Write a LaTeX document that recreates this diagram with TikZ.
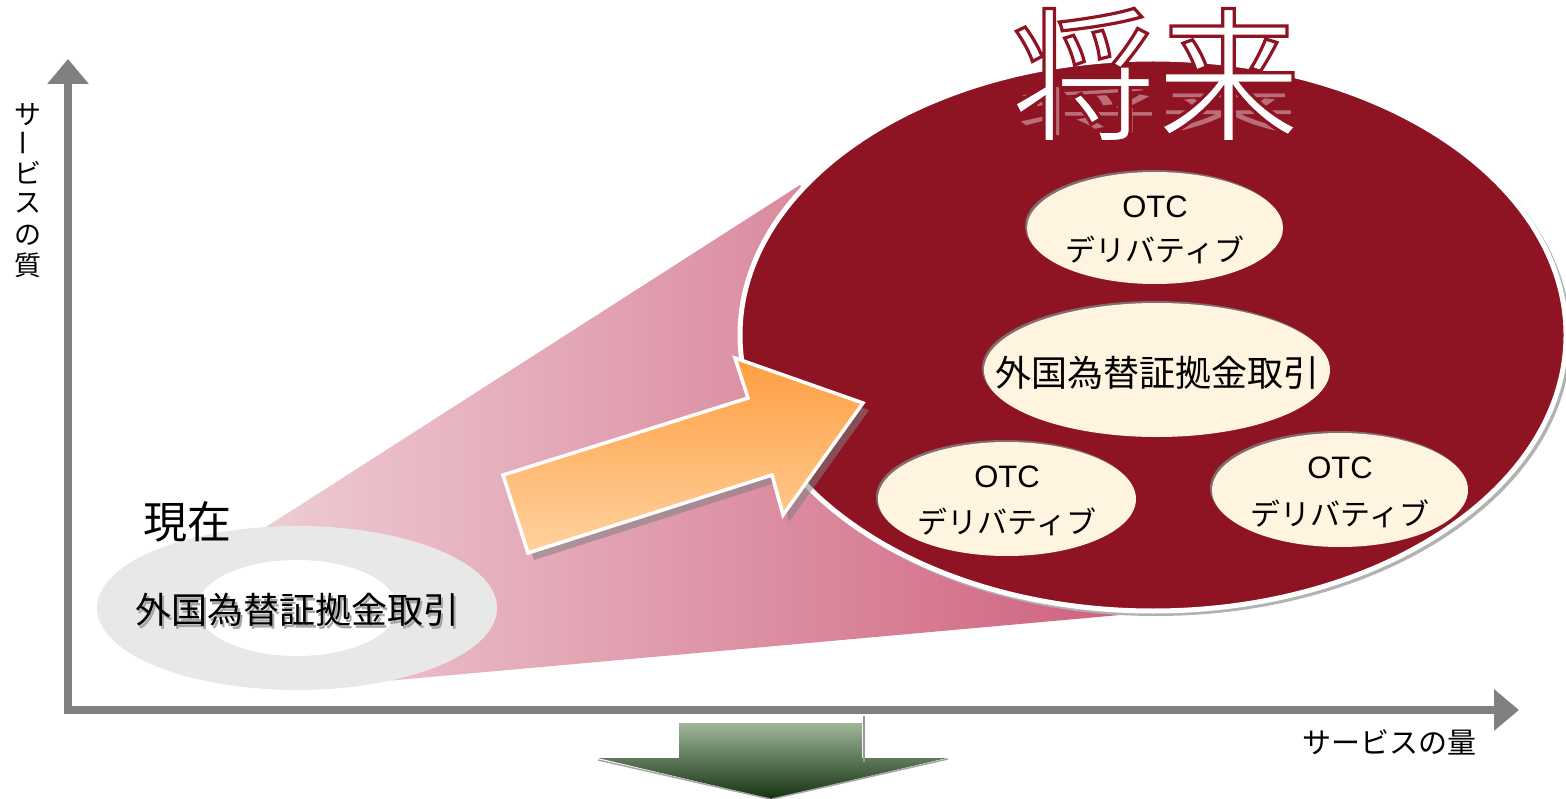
\documentclass[tikz,border=0pt]{standalone}
\usepackage{fontspec}
\setmainfont{Noto Sans CJK JP}
\newfontfamily\lat{Liberation Sans}
\usepackage{graphicx}
\usetikzlibrary{shapes.geometric,shadows,arrows.meta,calc}
\definecolor{darkred}{RGB}{142,20,36}
\definecolor{cream}{RGB}{255,244,224}
\definecolor{axisgray}{RGB}{128,128,128}
\definecolor{pinkL}{RGB}{238,204,212}
\definecolor{pinkR}{RGB}{207,98,126}
\definecolor{orT}{RGB}{255,158,66}
\definecolor{orB}{RGB}{255,210,158}
\definecolor{grT}{RGB}{160,182,154}
\definecolor{grB}{RGB}{20,50,16}
\definecolor{ringgray}{RGB}{232,232,232}
\newcommand{\titlefont}{\fontsize{145}{150}\selectfont}
\newcommand{\outlinetext}[1]{\special{pdf:literal direct 2 Tr 3.2 w 0.557 0.078 0.141 RG}#1\special{pdf:literal direct 0 Tr}}
\begin{document}
\begin{tikzpicture}[x=1pt,y=-1pt,
  axisline/.style={draw=axisgray,line width=8,-{Triangle[width=40pt,length=25pt]}},
  vlbl/.style={inner sep=0,font=\fontsize{27}{29}\selectfont},
  blob/.style={ellipse,fill=cream,inner sep=0,
    drop shadow={shadow xshift=-2pt,shadow yshift=2pt,fill=gray,opacity=0.8}},
  otc/.style={inner sep=0,font=\lat\fontsize{31}{33}\selectfont},
  kata/.style={inner sep=0,font=\fontsize{30}{32}\selectfont},
  fx/.style={inner sep=0,font=\fontsize{36}{38}\selectfont}]
\useasboundingbox (0,0) rectangle (1566,799);

% pink funnel
\shade[left color=pinkL,right color=pinkR]
  (266,527) -- (800,185) -- (1000,400) -- (1120,615) -- (330,686) -- (300,600) -- cycle;

% big ellipse (future)
\fill[gray!60] (1156,338) ellipse [x radius=415,y radius=278];
\draw[white,line width=5,fill=darkred] (1153,335) ellipse [x radius=413,y radius=276];

% title shadow and title
\node[inner sep=0,text=white!55!darkred,opacity=0.7,anchor=south] (titleshadow) at (1158,136)
  {\titlefont\scalebox{0.97}[0.36]{将来}};
\node[inner sep=0,text=white,font=\titlefont] (title) at (1156,75) {\outlinetext{将来}};

% left gray ring
\fill[ringgray] (297,608) ellipse [x radius=200,y radius=82];
\fill[white] (297,608) ellipse [x radius=100,y radius=48];
\node[fx,text=gray!70] at (299.5,612.5) {外国為替証拠金取引};
\node[fx] (now) at (297,610) {外国為替証拠金取引};
\node[inner sep=0,font=\fontsize{44}{46}\selectfont] (nowlbl) at (187,522) {現在};

% orange arrow
\fill[gray,opacity=0.55] (509,482) -- (754,405) -- (741,365) -- (869,410) -- (789,522) -- (778,482) -- (534,560) -- cycle;
\shadedraw[top color=orT,bottom color=orB,draw=white,line width=3.5,line join=miter]
  (503,475) -- (748,398) -- (735,358) -- (863,403) -- (783,515) -- (772,475) -- (528,553) -- cycle;

% small ellipses
\node[blob,minimum width=256,minimum height=112] (e1) at (1155,228) {};
\node[otc] at (1155,207) {OTC};
\node[kata] at (1155,250) {デリバティブ};
\node[blob,minimum width=346,minimum height=134] (e2) at (1157,370) {};
\node[fx] at (1157,373) {外国為替証拠金取引};
\node[blob,minimum width=258,minimum height=114] (e3) at (1007,499) {};
\node[otc] at (1007,477) {OTC};
\node[kata] at (1007,522) {デリバティブ};
\node[blob,minimum width=256,minimum height=114] (e4) at (1340,490) {};
\node[otc] at (1340,468) {OTC};
\node[kata] at (1340,514) {デリバティブ};

% axes
\coordinate (O) at (68,714);
\coordinate (ytip) at (68,59);
\coordinate (xs) at (64,710);
\coordinate (xtip) at (1519,710);
\draw[axisline] (O) -- (ytip);
\draw[axisline] (xs) -- (xtip);
\node[vlbl] (q1) at (28,115) {サ};
\node[vlbl,rotate=90] (q2) at (28,143) {ー};
\node[vlbl] (q3) at (28,173) {ビ};
\node[vlbl] (q4) at (28,203) {ス};
\node[vlbl] (q5) at (28,235) {の};
\node[vlbl] (q6) at (28,265) {質};
\node[inner sep=0,font=\fontsize{29}{31}\selectfont] (qty) at (1389,742) {サービスの量};

% green down arrow
\shade[top color=grT,bottom color=grB]
  (679,723) -- (862,723) -- (862,758) -- (947,758) -- (771,799) -- (598,758) -- (679,758) -- cycle;
\draw[gray!80,line width=2] (864,716) -- (864,762);
\draw[gray!70,line width=1.5] (598,760) -- (770,799);
\draw[gray!70,line width=1.5] (948,759) -- (772,799);
\end{tikzpicture}
\end{document}
